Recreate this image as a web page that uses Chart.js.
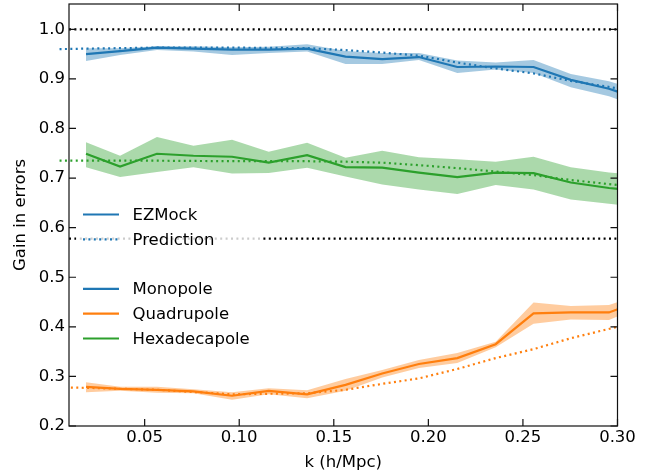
<!DOCTYPE html>
<html>
<head>
<meta charset="utf-8">
<script src="https://cdn.jsdelivr.net/npm/chart.js@4"></script>
<style>
  html, body { margin: 0; padding: 0; background: #fff; }
  #wrap { width: 670px; height: 474px; }
</style>
</head>
<body>
<div id="wrap"><canvas id="gainChart" width="670" height="474"></canvas></div>
<script>
// k bins of the EZMock measurements
const kData = [0.019, 0.037, 0.0565, 0.0758, 0.0962, 0.1156, 0.1359, 0.1562, 0.1756, 0.1950, 0.2153, 0.2356, 0.2556, 0.2753, 0.2955, 0.3155];

// gain in errors per multipole (mean, upper, lower)
const monoMean  = [0.950, 0.956, 0.963, 0.961, 0.959, 0.959, 0.961, 0.945, 0.940, 0.944, 0.924, 0.925, 0.924, 0.898, 0.880, 0.855];
const monoHigh  = [0.962, 0.962, 0.966, 0.966, 0.964, 0.965, 0.970, 0.956, 0.952, 0.952, 0.937, 0.933, 0.938, 0.910, 0.895, 0.872];
const monoLow   = [0.936, 0.948, 0.958, 0.955, 0.948, 0.952, 0.955, 0.930, 0.930, 0.938, 0.912, 0.919, 0.912, 0.883, 0.865, 0.838];

const quadMean  = [0.279, 0.275, 0.273, 0.270, 0.261, 0.271, 0.264, 0.283, 0.306, 0.325, 0.337, 0.365, 0.427, 0.429, 0.429, 0.457];
const quadHigh  = [0.288, 0.279, 0.279, 0.274, 0.268, 0.276, 0.272, 0.295, 0.313, 0.333, 0.347, 0.370, 0.449, 0.442, 0.444, 0.470];
const quadLow   = [0.268, 0.271, 0.267, 0.266, 0.253, 0.264, 0.256, 0.271, 0.298, 0.317, 0.327, 0.359, 0.406, 0.415, 0.414, 0.444];

const hexaMean  = [0.749, 0.723, 0.749, 0.745, 0.743, 0.731, 0.746, 0.722, 0.721, 0.711, 0.702, 0.711, 0.710, 0.691, 0.680, 0.672];
const hexaHigh  = [0.772, 0.745, 0.783, 0.765, 0.777, 0.753, 0.771, 0.741, 0.755, 0.742, 0.738, 0.733, 0.743, 0.722, 0.711, 0.705];
const hexaLow   = [0.722, 0.702, 0.712, 0.722, 0.709, 0.710, 0.721, 0.703, 0.687, 0.677, 0.668, 0.686, 0.677, 0.657, 0.648, 0.640];

// predicted gain curves
const kPred     = [0.005, 0.019, 0.0565, 0.0962, 0.1359, 0.1562, 0.1756, 0.1950, 0.2153, 0.2356, 0.2556, 0.2753, 0.30];
const monoPred  = [0.960, 0.961, 0.963, 0.963, 0.962, 0.958, 0.953, 0.947, 0.933, 0.921, 0.911, 0.896, 0.881];
const hexaPred  = [0.735, 0.735, 0.735, 0.734, 0.734, 0.733, 0.731, 0.726, 0.720, 0.713, 0.706, 0.696, 0.686];
const kPredQuad = [0.011, 0.019, 0.0565, 0.0962, 0.1359, 0.1562, 0.1756, 0.1950, 0.2153, 0.2356, 0.2556, 0.2753, 0.30];
const quadPred  = [0.2775, 0.277, 0.273, 0.264, 0.266, 0.273, 0.285, 0.296, 0.315, 0.337, 0.355, 0.377, 0.400];

// horizontal reference levels
const refLevels = [1.0, 0.578];
const refRange = [0.01, 0.30];

const xTicks = [0.05, 0.10, 0.15, 0.20, 0.25, 0.30];
const yTicks = [0.2, 0.3, 0.4, 0.5, 0.6, 0.7, 0.8, 0.9, 1.0];

const BLUE = '#1f77b4', ORANGE = '#ff7f0e', GREEN = '#2ca02c';
const FONT = { family: '"DejaVu Sans", sans-serif', size: 16.5 };
const DOTS = [2, 3.4];

const pts = (xs, ys) => xs.map((x, i) => ({ x: x, y: ys[i] }));

function solid(label, ys, color) {
    return { label, data: pts(kData, ys), borderColor: color, borderWidth: 2.2, pointRadius: 0, fill: false };
}
function dotted(label, xs, ys, color) {
    return { label, data: pts(xs, ys), borderColor: color, borderWidth: 2.2, borderDash: DOTS,
             borderCapStyle: 'butt', pointRadius: 0, fill: false, clip: { left: 12, top: 0, right: 0, bottom: 0 } };
}
function bandLow(ys) {
    return { data: pts(kData, ys), borderWidth: 0, pointRadius: 0, fill: false };
}
function bandHigh(ys, rgb) {
    return { data: pts(kData, ys), borderWidth: 0, pointRadius: 0, fill: '-1', backgroundColor: `rgba(${rgb},0.4)` };
}

// lower index is drawn on top
const datasets = [
    dotted('Mono pred', kPred, monoPred, BLUE),
    dotted('Quad pred', kPredQuad, quadPred, ORANGE),
    dotted('Hexa pred', kPred, hexaPred, GREEN),
    solid('Monopole', monoMean, BLUE),
    solid('Quadrupole', quadMean, ORANGE),
    solid('Hexadecapole', hexaMean, GREEN),
    bandLow(monoLow), bandHigh(monoHigh, '31,119,180'),
    bandLow(quadLow), bandHigh(quadHigh, '255,127,14'),
    bandLow(hexaLow), bandHigh(hexaHigh, '44,160,44'),
];
refLevels.forEach(v => {
    datasets.push({ data: pts(refRange, [v, v]), borderColor: '#000', borderWidth: 2.2, borderDash: DOTS,
                    borderCapStyle: 'butt', pointRadius: 0, fill: false });
});

// legend entries: null leaves an empty row
const legendRows = [
    { text: 'EZMock', color: BLUE, dash: false },
    { text: 'Prediction', color: BLUE, dash: true },
    null,
    { text: 'Monopole', color: BLUE, dash: false },
    { text: 'Quadrupole', color: ORANGE, dash: false },
    { text: 'Hexadecapole', color: GREEN, dash: false },
];

const legendBox = {
    id: 'legendBox',
    afterDatasetsDraw(chart) {
        const ctx = chart.ctx, a = chart.chartArea;
        const x0 = a.left + 7, y0 = a.top + 194, w = 186, h = 157, rowH = 24.8;
        ctx.save();
        ctx.fillStyle = 'rgba(255,255,255,0.8)';
        ctx.beginPath();
        ctx.roundRect(x0, y0, w, h, 3);
        ctx.fill();
        ctx.font = `${FONT.size}px ${FONT.family}`;
        ctx.textBaseline = 'middle';
        ctx.fillStyle = '#000';
        legendRows.forEach((row, i) => {
            if (!row) return;
            const y = y0 + 16.5 + i * rowH;
            ctx.strokeStyle = row.color;
            ctx.lineWidth = 2.2;
            ctx.lineCap = 'butt';
            ctx.setLineDash(row.dash ? DOTS : []);
            ctx.beginPath();
            ctx.moveTo(x0 + 7, y);
            ctx.lineTo(x0 + 43, y);
            ctx.stroke();
            ctx.fillText(row.text, x0 + 56.5, y + 1);
        });
        ctx.restore();
    }
};

// box frame with inward ticks on all four sides
const frameTicks = {
    id: 'frameTicks',
    afterDraw(chart) {
        const ctx = chart.ctx, a = chart.chartArea;
        const xs = chart.scales.x, ys = chart.scales.y, len = 7;
        ctx.save();
        ctx.strokeStyle = '#111';
        ctx.lineWidth = 1.2;
        ctx.setLineDash([]);
        ctx.beginPath();
        xTicks.forEach(v => {
            const px = xs.getPixelForValue(v);
            ctx.moveTo(px, a.bottom); ctx.lineTo(px, a.bottom - len);
            ctx.moveTo(px, a.top); ctx.lineTo(px, a.top + len);
        });
        yTicks.forEach(v => {
            const py = ys.getPixelForValue(v);
            ctx.moveTo(a.left, py); ctx.lineTo(a.left + len, py);
            ctx.moveTo(a.right, py); ctx.lineTo(a.right - len, py);
        });
        ctx.stroke();
        ctx.strokeRect(a.left, a.top, a.right - a.left, a.bottom - a.top);
        ctx.restore();
    }
};

new Chart(document.getElementById('gainChart'), {
    type: 'line',
    data: { datasets },
    options: {
        responsive: false,
        animation: false,
        layout: { padding: { top: 4, right: 52.5, bottom: 0, left: 0 } },
        plugins: { legend: { display: false }, tooltip: { enabled: false } },
        scales: {
            x: {
                type: 'linear', min: 0.01, max: 0.30,
                afterBuildTicks: s => { s.ticks = xTicks.map(v => ({ value: v })); },
                afterFit: s => { s.height = 48; s.paddingLeft = 0; s.paddingRight = 0; },
                ticks: { callback: v => v.toFixed(2), padding: 2, font: FONT, color: '#000', maxRotation: 0, autoSkip: false },
                grid: { display: false, drawTicks: false },
                border: { display: false },
                title: { display: true, text: 'k (h/Mpc)', font: FONT, color: '#000', padding: { top: 0, bottom: 1.5 } }
            },
            y: {
                min: 0.2, max: 1.051,
                afterBuildTicks: s => { s.ticks = yTicks.map(v => ({ value: v })); },
                afterFit: s => { s.width = 69; s.paddingTop = 0; s.paddingBottom = 0; },
                ticks: { callback: v => v.toFixed(1), padding: 4, font: FONT, color: '#000', autoSkip: false },
                grid: { display: false, drawTicks: false },
                border: { display: false },
                title: { display: true, text: 'Gain in errors', font: FONT, color: '#000', padding: { top: 10.5, bottom: 0 } }
            }
        }
    },
    plugins: [legendBox, frameTicks]
});
</script>
</body>
</html>
